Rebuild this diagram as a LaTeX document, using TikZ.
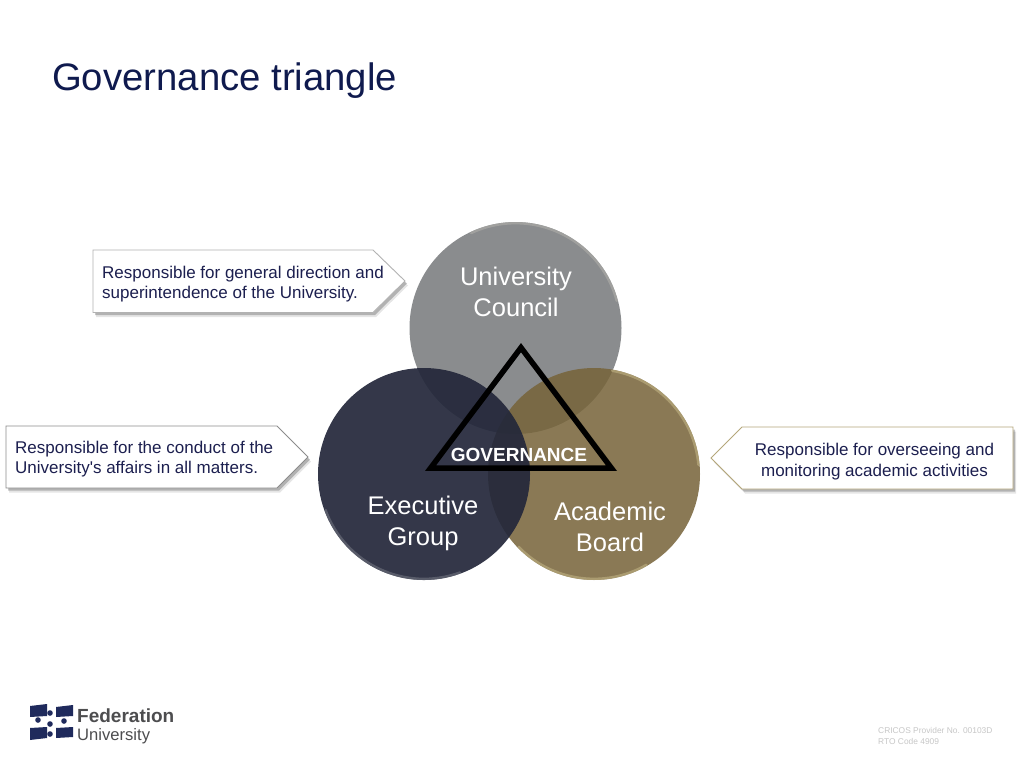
\documentclass[tikz,border=0pt]{standalone}
\usepackage{fontspec}
\setmainfont{Liberation Sans}
\newfontfamily\notefont{Liberation Sans}
\usetikzlibrary{shadows}
\usepackage{xcolor}
\definecolor{title1}{HTML}{0F1A4E}
\definecolor{text1}{HTML}{1C1F4F}
\definecolor{grey1}{HTML}{8A8C8E}
\definecolor{navy1}{HTML}{23273A}
\definecolor{gold1}{HTML}{77643A}
\definecolor{edge1}{HTML}{A8A8A4}
\definecolor{edge2}{HTML}{B5A77A}
\definecolor{flag1}{HTML}{1F2A5C}
\definecolor{logo1}{HTML}{4D4D4F}
\tikzstyle{disc}=[circle,inner sep=0pt,minimum size=212pt]
\tikzstyle{disc label}=[text=white,align=center,font=\fontsize{25.5}{31}\selectfont]
\tikzstyle{callout}=[fill=white,line width=0.9pt,
  general shadow={shadow xshift=3pt,shadow yshift=-4.5pt,opacity=.1,fill=black},
  general shadow={shadow xshift=2pt,shadow yshift=-2.5pt,opacity=.22,fill=black}]
\tikzstyle{callout text}=[text=text1,font=\notefont\fontsize{17}{20.5}\selectfont,inner sep=0pt]
\tikzstyle{rim}=[line width=2.4pt,line cap=round,opacity=.75]
\newcommand{\myrim}[4]
{  % #1 = node , #2 = colour , #3 = start angle , #4 = end angle
  \draw[rim,#2] (#1.center) ++(#3:104.8pt) arc[start angle=#3,end angle=#4,radius=104.8pt];
}

\begin{document}
\begin{tikzpicture}[x=1pt,y=-1pt]
  \useasboundingbox (0,0) rectangle (1024,768);
  \fill[white] (0,0) rectangle (1024,768);
  \node[anchor=west,inner sep=0pt,text=title1,font=\fontsize{38.3}{44}\selectfont] (title) at (52,81) {Governance triangle};

  % the three discs
  \node[disc,fill=grey1] (council) at (515.5,328) {};
  \node[disc,fill=gold1,fill opacity=.86] (board) at (594,474) {};
  \node[disc,fill=navy1,fill opacity=.92] (group) at (424,474) {};
  \myrim{council}{edge1}{15}{115}
  \myrim{board}{edge2}{5}{80}
  \myrim{board}{edge2}{224}{300}
  \myrim{group}{navy1!70!white}{200}{290}
  \node[disc label] (councilText) at (516,292) {University\\Council};
  \node[disc label] (groupText) at (423,523) {Executive\\Group};
  \node[disc label] (boardText) at (610,527) {Academic\\Board};

  % triangle
  \coordinate (apex) at (521,347.6);
  \coordinate (baseL) at (430.5,468.2);
  \coordinate (baseR) at (611.5,468.2);
  \draw[black,line width=5.5pt,miter limit=10] (apex) -- (baseR) -- (baseL) -- cycle;
  \node[text=white,inner sep=0pt,font=\bfseries\fontsize{19}{24}\selectfont] (gov) at (519,455) {GOVERNANCE};

  % callouts
  \draw[callout,draw=black!30] (93,250) -- (373,250) -- (405,281) -- (373,312.5) -- (93,312.5) -- cycle;
  \node[callout text,anchor=west,align=left] (councilNote) at (102,284) {Responsible for general direction and\\superintendence of the University.};
  \draw[callout,draw=black!45] (6,426) -- (277,426) -- (308,457) -- (277,488) -- (6,488) -- cycle;
  \node[callout text,anchor=west,align=left] (groupNote) at (15,459) {Responsible for the conduct of the\\University's affairs in all matters.};
  \draw[callout,draw=edge2] (1013,427) -- (742,427) -- (711,458) -- (742,489) -- (1013,489) -- cycle;
  \node[callout text,align=center] (boardNote) at (874.5,461.5) {Responsible for overseeing and\\monitoring academic activities};

  % logo
  \fill[flag1] (30,706) -- (47,704) -- (47,716) -- (30,717) -- cycle;
  \fill[flag1] (30,728) -- (47,727) -- (47,738) -- (30,740) -- cycle;
  \fill[flag1] (56,707) -- (73,705) -- (73,716) -- (56,717) -- cycle;
  \fill[flag1] (56,728) -- (73,727) -- (73,737) -- (56,738) -- cycle;
  \foreach \px/\py in {38/720,50/713,50/724,50/734,64/721}
    \fill[flag1] (\px,\py) circle (2.8pt);
  \node[anchor=base west,inner sep=0pt,text=logo1,font=\bfseries\fontsize{19}{22}\selectfont] (logoA) at (77,722) {Federation};
  \node[anchor=base west,inner sep=0pt,text=logo1,font=\fontsize{16.6}{20}\selectfont] (logoB) at (77,740) {University};

  % footer
  \node[anchor=west,inner sep=0pt,text=black!22,align=left,font=\fontsize{8.4}{11.5}\selectfont] (footer) at (878,736) {CRICOS Provider No. 00103D\\RTO Code 4909};
\end{tikzpicture}
\end{document}
